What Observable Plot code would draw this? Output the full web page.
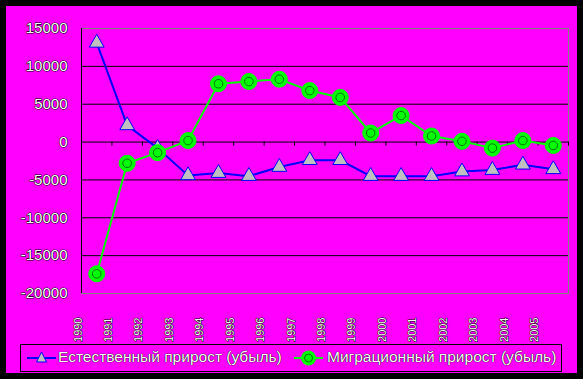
<!DOCTYPE html>
<html>
<head>
<meta charset="utf-8">
<script src="https://cdn.jsdelivr.net/npm/d3@7"></script>
<script src="https://cdn.jsdelivr.net/npm/@observablehq/plot@0.6"></script>
<style>
  html, body { margin: 0; padding: 0; background: #000; }
  #wrap { position: relative; width: 583px; height: 379px; background: #000; overflow: hidden; font-family: "Liberation Sans", Arial, sans-serif; }
  #inner { position: absolute; left: 6px; top: 6px; width: 571px; height: 367px; background: #ff00ff; }
  #chart { position: absolute; left: 0; top: 0; }
  #legend { position: absolute; left: 20px; top: 344px; width: 540px; height: 26px; border: 1px solid #000; }
  .lt { position: absolute; top: 3px; font-size: 15.5px; color: #fff; text-shadow: 0 0 1px #000, 0 0 1px #000; white-space: nowrap; }
  .ls { position: absolute; top: 0; }
</style>
</head>
<body>
<div id="wrap">
  <div id="inner"></div>
  <div id="chart"></div>
  <div id="legend"></div>
</div>
<script>
const years = ["1990","1991","1992","1993","1994","1995","1996","1997","1998","1999","2000","2001","2002","2003","2004","2005"];
const natural = [13100, 2200, -800, -4400, -4100, -4500, -3300, -2400, -2400, -4500, -4500, -4500, -3900, -3700, -3000, -3600];
const migration = [-17400, -2800, -1400, 200, 7700, 8000, 8300, 6800, 5900, 1200, 3500, 800, 100, -800, 200, -450];
const yTicks = [15000, 10000, 5000, 0, -5000, -10000, -15000, -20000];
const seriesNames = ["Естественный прирост (убыль)", "Миграционный прирост (убыль)"];

const natData = years.map((y, i) => ({year: y, value: natural[i]}));
const migData = years.map((y, i) => ({year: y, value: migration[i]}));

const W = 583, H = 379;
const mL = 81, mR = 15, mT = 28, mB = 86;
const bw = (W - mL - mR) / years.length;
const half = bw / 2;
const tickLen = 4 * 35000 / (H - mT - mB);

const chart = Plot.plot({
  width: W,
  height: H,
  marginLeft: mL,
  marginRight: mR,
  marginTop: mT,
  marginBottom: mB,
  style: {background: "transparent", fontFamily: "Liberation Sans, Arial, sans-serif"},
  x: {type: "band", domain: years, padding: 0, round: false, axis: null},
  y: {domain: [-20000, 15000], axis: null},
  marks: [
    Plot.ruleY(yTicks.filter(d => d !== 15000 && d !== -20000), {stroke: "#000", strokeWidth: 1}),
    Plot.frame({stroke: "#808080", strokeWidth: 1}),
    Plot.ruleX([years[0]], {x: d => d, dx: -half, y1: -20000, y2: 15000, stroke: "#000", strokeWidth: 1}),
    Plot.ruleY(yTicks, {y: d => d, x1: years[0], x2: years[0], dx: -half, insetLeft: -5, stroke: "#000", strokeWidth: 1}),
    Plot.ruleX(years, {x: d => d, dx: -half, y1: 0, y2: -tickLen, stroke: "#000"}),
    Plot.ruleX([years[years.length - 1]], {x: d => d, dx: half, y1: 0, y2: -tickLen, stroke: "#000"}),
    Plot.text(yTicks, {y: d => d, frameAnchor: "left", dx: -14, textAnchor: "end", text: d => String(d), fill: "#fff", stroke: "#000", strokeWidth: 1.1, fontSize: 15}),
    Plot.text(years, {x: d => d, frameAnchor: "bottom", dx: -half, dy: 24, rotate: -90, textAnchor: "end", text: d => d, fill: "#fff", stroke: "#000", strokeWidth: 1, fontSize: 11}),
    Plot.line(natData, {x: "year", y: "value", stroke: "#0000ff", strokeWidth: 2}),
    Plot.dot(natData, {x: "year", y: "value", symbol: "triangle", r: 5.5, fill: "#c0c0c0", stroke: "#0000ff", strokeWidth: 1}),
    Plot.line(migData, {x: "year", y: "value", stroke: "#00ff00", strokeWidth: 2}),
    Plot.dot(migData, {x: "year", y: "value", r: 8, fill: "#00ff00", stroke: "#00ff00", strokeWidth: 1}),
    Plot.dot(migData, {x: "year", y: "value", r: 4.3, fill: "#00ff00", stroke: "#007000", strokeWidth: 1})
  ]
});
document.getElementById("chart").appendChild(chart);

// legend
const leg = document.getElementById("legend");
leg.innerHTML = `
  <svg class="ls" width="40" height="26" style="left:5px">
    <line x1="1" y1="13" x2="30" y2="13" stroke="#0000ff" stroke-width="2"/>
    <path d="M15.5,7 L20.5,17 L10.5,17 Z" fill="#c0c0c0" stroke="#0000ff" stroke-width="1"/>
  </svg>
  <div class="lt" style="left:37px">${seriesNames[0]}</div>
  <svg class="ls" width="40" height="26" style="left:272px">
    <line x1="1" y1="13" x2="30" y2="13" stroke="#00ff00" stroke-width="2"/>
    <circle cx="15.5" cy="13" r="7.5" fill="#00ff00"/>
    <circle cx="15.5" cy="13" r="4" fill="#00ff00" stroke="#007000" stroke-width="1"/>
  </svg>
  <div class="lt" style="left:306px">${seriesNames[1]}</div>
`;
</script>
</body>
</html>
